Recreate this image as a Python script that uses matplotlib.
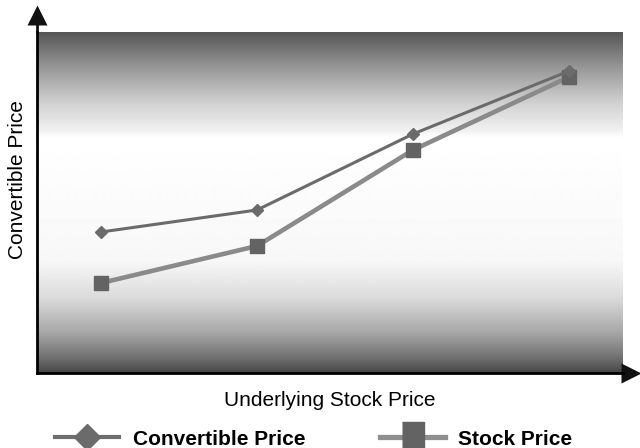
import numpy as np
import matplotlib.pyplot as plt
from matplotlib.lines import Line2D

plt.rcParams['font.family'] = ['Liberation Sans', 'DejaVu Sans']

# four points along the underlying stock price axis
stock_x = [1, 2, 3, 4]
convertible_price = [141, 163, 239, 302]
stock_price = [90, 127, 223, 296]

fig = plt.figure(figsize=(6.4, 4.48), dpi=100)
ax = fig.add_axes([37/640, 75/448, 586/640, 341/448])
ax.set_xlim(0.59, 4.346)
ax.set_ylim(0, 341)

# vertical shading: dark top, white band, dark bottom
stops = [0.0, 0.1, 0.2, 0.293, 0.31, 0.674, 0.78, 0.88, 0.95, 1.0]
level = [0.33, 0.58, 0.80, 0.95, 1.0, 0.97, 0.86, 0.66, 0.46, 0.28]
f = np.linspace(0, 1, 400)
shade = np.interp(f, stops, level)[:, None]
ax.imshow(shade, cmap='gray', vmin=0, vmax=1, aspect='auto',
          extent=[0, 1, 0, 1], transform=ax.transAxes, zorder=0,
          interpolation='bilinear')

ax.plot(stock_x, stock_price, color='#8a8a8a', lw=3.3, marker='s',
        ms=9.5, mfc='#636363', mec='#636363', zorder=2)
ax.plot(stock_x, convertible_price, color='#6b6b6b', lw=2.2, marker='D',
        ms=6.5, mfc='#6b6b6b', mec='#6b6b6b', zorder=3)

for s in ['top', 'right']:
    ax.spines[s].set_visible(False)
ax.spines['left'].set_linewidth(2.0)
ax.spines['bottom'].set_linewidth(2.0)
ax.set_xticks([])
ax.set_yticks([])

# axis arrows
ax.plot([0, 0], [1.0, 1.03], color='#111111', lw=2.0,
        transform=ax.transAxes, clip_on=False)
ax.plot([0], [1.05], marker='^', ms=15, color='#111111', mec='none',
        transform=ax.transAxes, clip_on=False)
ax.plot([1.0, 1.008], [0, 0], color='#111111', lw=2.0,
        transform=ax.transAxes, clip_on=False)
ax.plot([1.0145], [0], marker='>', ms=15, color='#111111', mec='none',
        transform=ax.transAxes, clip_on=False)

ax.set_ylabel('Convertible Price', fontsize=15)
ax.yaxis.set_label_coords(-0.0175, 0.566)
ax.set_xlabel('Underlying Stock Price', fontsize=15, labelpad=13)

tall_box = [(-0.36, -0.5), (0.36, -0.5), (0.36, 0.5), (-0.36, 0.5)]
handles = [
    Line2D([], [], color='#6e6e6e', lw=3, marker='D', ms=13,
           mfc='#6b6b6b', mec='#6b6b6b'),
    Line2D([], [], color='#8f8f8f', lw=3.8, marker=tall_box, ms=22,
           mfc='#636363', mec='#636363'),
]
fig.legend(handles, ['Convertible Price', 'Stock Price'], loc='center',
           bbox_to_anchor=(0.49, 9/448), ncol=2, frameon=False,
           prop={'weight': 'bold', 'size': 15}, handlelength=3.1,
           handletextpad=0.65, columnspacing=3.6)

fig.savefig('out.png', dpi=100)
